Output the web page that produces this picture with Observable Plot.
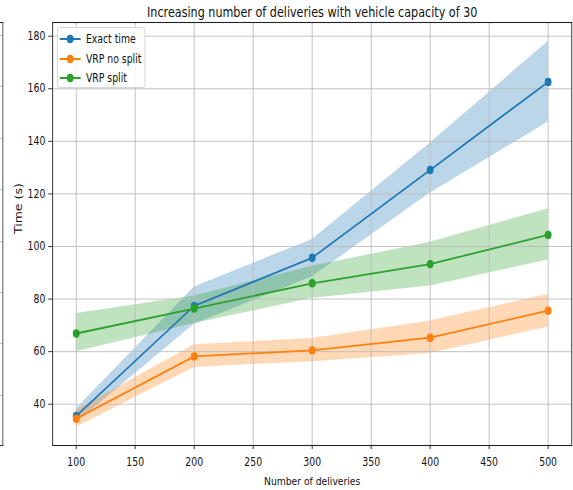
<!DOCTYPE html>
<html>
<head>
<meta charset="utf-8">
<script src="https://cdn.jsdelivr.net/npm/d3@7"></script>
<script src="https://cdn.jsdelivr.net/npm/@observablehq/plot@0.6"></script>
<style>
  html, body { margin: 0; padding: 0; overflow: hidden; background: #fff; }
  #clip { position: relative; width: 573px; height: 490px; overflow: hidden; }
  /* the figure is laid out wide, then narrowed horizontally */
  #fig {
    position: absolute; left: 0; top: 0; width: 702px; height: 490px;
    transform: scaleX(0.8162); transform-origin: 0 0;
    font-family: "DejaVu Sans", sans-serif;
  }
  /* right edge of the neighbouring panel */
  #neighbour {
    position: absolute; left: 0; top: 21.5px; width: 4px; height: 424px;
    box-sizing: border-box;
    border-top: 1px solid #333; border-bottom: 1px solid #333; border-right: 1.2px solid #333;
    background: repeating-linear-gradient(to bottom, transparent 0 12px, #c4c4c4 12px 13px, transparent 13px 51.4px);
  }
  #legend {
    position: absolute; left: 69.8px; top: 27px; width: 107.8px; height: 61px;
    box-sizing: border-box; padding-top: 1.5px;
    border: 1px solid #d4d4d4; border-radius: 3px;
    background: rgba(255, 255, 255, 0.8);
  }
  #legend .row {
    display: flex; align-items: center; height: 19.6px;
    font-size: 11.4px; color: #111; white-space: nowrap;
  }
  #legend svg { margin-left: 2.7px; margin-right: 5.8px; flex: none; }
</style>
</head>
<body>
<div id="clip"><div id="fig"><div id="neighbour"></div></div></div>
<script>
// Run time (s) against number of deliveries, vehicle capacity 30
const deliveries = [100, 200, 300, 400, 500];

const exactMean = [35.5, 77.4, 95.7, 129.1, 162.6];
const exactLow  = [33.0, 70.4, 88.5, 120.3, 147.4];
const exactHigh = [38.3, 84.6, 102.7, 139.4, 178.0];

const noSplitMean = [34.5, 58.2, 60.5, 65.3, 75.6];
const noSplitLow  = [31.2, 54.0, 56.2, 59.3, 69.4];
const noSplitHigh = [37.6, 62.6, 65.0, 71.7, 81.8];

const splitMean = [66.9, 76.4, 86.0, 93.3, 104.4];
const splitLow  = [60.0, 70.7, 80.3, 85.0, 94.9];
const splitHigh = [74.5, 81.2, 92.5, 101.6, 114.4];

const seriesNames = ["Exact time", "VRP no split", "VRP split"];
const xTicks = [100, 150, 200, 250, 300, 350, 400, 450, 500];
const yTicks = [40, 60, 80, 100, 120, 140, 160, 180];

const titleText = "Increasing number of deliveries with vehicle capacity of 30";
const xLabelText = "Number of deliveries";
const yLabelText = "Time (s)";

const palette = ["#1f77b4", "#ff7f0e", "#2ca02c"];

// long table: one row per series and delivery count
const columns = [
  [exactMean, exactLow, exactHigh],
  [noSplitMean, noSplitLow, noSplitHigh],
  [splitMean, splitLow, splitHigh]
];
const rows = seriesNames.flatMap((name, s) =>
  deliveries.map((d, i) => ({
    series: name,
    deliveries: d,
    mean: columns[s][0][i],
    low: columns[s][1][i],
    high: columns[s][2][i]
  }))
);
const bySeries = name => rows.filter(r => r.series === name);

const plot = Plot.plot({
  width: 702,
  height: 490,
  marginLeft: 64,
  marginRight: 2,
  marginTop: 22,
  marginBottom: 45,
  style: { fontFamily: "DejaVu Sans, sans-serif", fontSize: "11.4px", color: "#111", background: "transparent" },
  x: { domain: [80, 520] },
  y: { domain: [24.3, 185.2] },
  color: { domain: seriesNames, range: palette },
  marks: [
    // spread bands sit under the grid
    Plot.areaY(rows, { x: "deliveries", y1: "low", y2: "high", z: "series", fill: "series", fillOpacity: 0.3 }),
    Plot.gridX(xTicks, { stroke: "#bdbdbd", strokeOpacity: 1, strokeWidth: 1 }),
    Plot.gridY(yTicks, { stroke: "#bdbdbd", strokeOpacity: 1, strokeWidth: 1 }),
    ...seriesNames.flatMap(name => [
      Plot.line(bySeries(name), { x: "deliveries", y: "mean", stroke: "series", strokeWidth: 1.8 }),
      Plot.dot(bySeries(name), { x: "deliveries", y: "mean", fill: "series", r: 4.2 })
    ]),
    Plot.axisX(xTicks, { tickSize: 4, tickPadding: 8, label: null, stroke: "#222" }),
    Plot.axisY(yTicks, { tickSize: 5, tickPadding: 4, label: null, stroke: "#222" }),
    Plot.frame({ stroke: "#222", strokeWidth: 1.1 }),
    Plot.text([titleText], { frameAnchor: "top", lineAnchor: "bottom", dy: -6, fontSize: 13.7 }),
    Plot.text([xLabelText], { frameAnchor: "bottom", lineAnchor: "bottom", dy: 39.3, fontSize: 11.3 }),
    Plot.text([yLabelText], { frameAnchor: "left", lineAnchor: "bottom", rotate: -90, dx: -37.7, fontSize: 12.5 })
  ]
});

const fig = document.getElementById("fig");
fig.appendChild(plot);
plot.style.position = "absolute";
plot.style.left = "0";
plot.style.top = "0";

// legend: line-and-marker swatch per series
const legend = document.createElement("div");
legend.id = "legend";
seriesNames.forEach((name, i) => {
  const row = document.createElement("div");
  row.className = "row";
  const sw = d3.create("svg").attr("width", 26).attr("height", 12);
  sw.append("line").attr("x1", 0).attr("x2", 26).attr("y1", 6).attr("y2", 6)
    .attr("stroke", palette[i]).attr("stroke-width", 1.8);
  sw.append("circle").attr("cx", 13).attr("cy", 6).attr("r", 4.2).attr("fill", palette[i]);
  row.appendChild(sw.node());
  const label = document.createElement("span");
  label.textContent = name;
  row.appendChild(label);
  legend.appendChild(row);
});
fig.appendChild(legend);
</script>
</body>
</html>
